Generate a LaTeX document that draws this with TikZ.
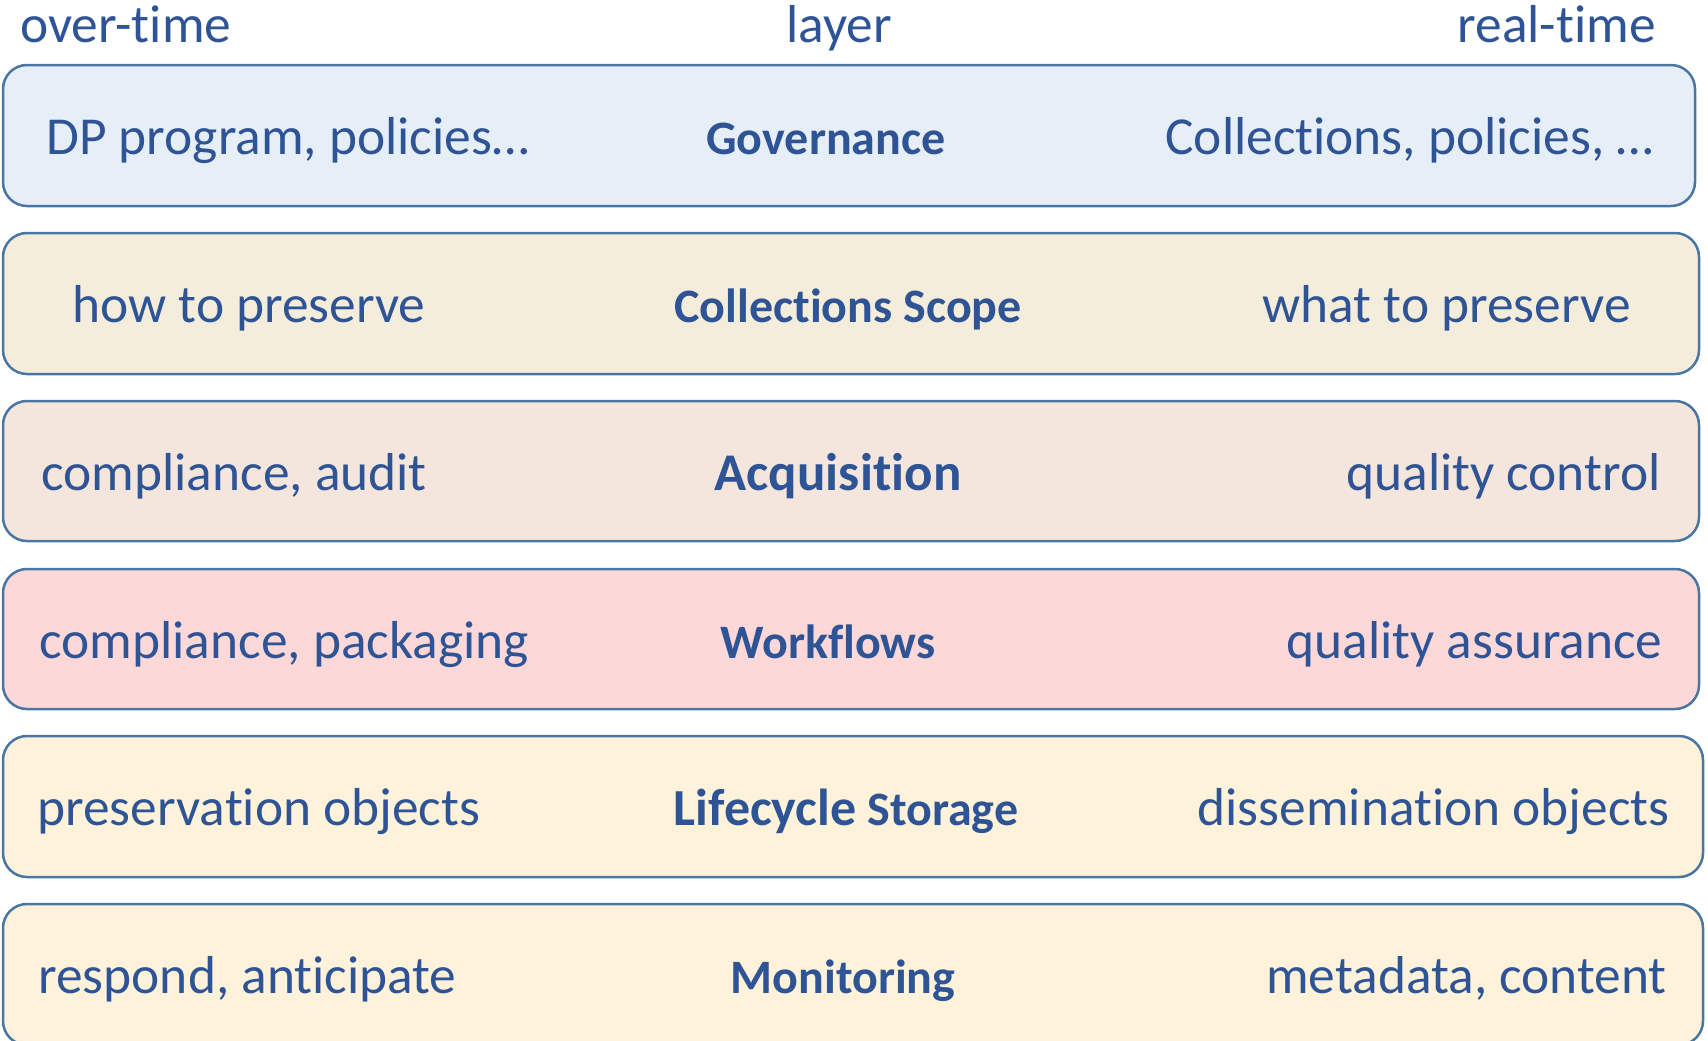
\documentclass[tikz,border=0pt]{standalone}
\usepackage{fontspec}
\setmainfont[Ligatures={NoCommon}]{Carlito}
\definecolor{txtblue}{HTML}{2F5496}
\definecolor{edgeblue}{HTML}{4A76A4}
\definecolor{fillA}{HTML}{E6EEF7}
\definecolor{fillB}{HTML}{F4EDDC}
\definecolor{fillC}{HTML}{F4E6DD}
\definecolor{fillD}{HTML}{FDD8D8}
\definecolor{fillE}{HTML}{FEF3DA}
\tikzset{
  layerbox/.style={draw=edgeblue, line width=1.25pt, rounded corners=12pt},
  lbl/.style={inner sep=0pt, text=txtblue, font=\fontsize{26.7}{30}\selectfont},
  lleft/.style={lbl, anchor=base west},
  lright/.style={lbl, anchor=base east},
  lmid/.style={inner sep=0pt, text=txtblue, anchor=base, font=\fontsize{24}{28}\selectfont\bfseries},
}
\begin{document}
\begin{tikzpicture}[x=0.5pt,y=-0.5pt]
\useasboundingbox (0,0) rectangle (1708,1040);
\clip (0,0) rectangle (1708,1040);
% headers
\node[lleft] (hover) at (20,42) {over-time};
\node[lbl, anchor=base] (hlayer) at (839,42) {layer};
\node[lright] (hreal) at (1656,42) {real-time};
% boxes
\draw[layerbox, fill=fillA] (3,65) rectangle (1695,206);
\draw[layerbox, fill=fillB] (3,233) rectangle (1699,374);
\draw[layerbox, fill=fillC] (3,401) rectangle (1699,541);
\draw[layerbox, fill=fillD] (3,569) rectangle (1699,709);
\draw[layerbox, fill=fillE] (3,736) rectangle (1703,877);
\draw[layerbox, fill=fillE] (3,904) rectangle (1703,1045);
% row 1
\node[lleft] (l1) at (46,154) {DP program, policies…};
\node[lmid] (m1) at (826,154) {Governance};
\node[lright] (r1) at (1654,154) {Collections, policies, …};
% row 2
\node[lleft] (l2) at (72,322) {how to preserve};
\node[lmid] (m2) at (848,322) {Collections Scope};
\node[lright] (r2) at (1631,322) {what to preserve};
% row 3
\node[lleft] (l3) at (41,490) {compliance, audit};
\node[lmid, font=\fontsize{26.5}{30}\selectfont\bfseries] (m3) at (838,490) {Acquisition};
\node[lright] (r3) at (1661,490) {quality control};
% row 4
\node[lleft] (l4) at (39,658) {compliance, packaging};
\node[lmid] (m4) at (828,658) {Workflows};
\node[lright] (r4) at (1663,658) {quality assurance};
% row 5
\node[lleft] (l5) at (37,825) {preservation objects};
\node[lmid] (m5) at (846,825) {{\fontsize{26}{30}\selectfont Lifecycle} Storage};
\node[lright] (r5) at (1670,825) {dissemination objects};
% row 6
\node[lleft] (l6) at (38,993) {respond, anticipate};
\node[lmid] (m6) at (843,993) {Monitoring};
\node[lright] (r6) at (1667,993) {metadata, content};
\end{tikzpicture}
\end{document}
